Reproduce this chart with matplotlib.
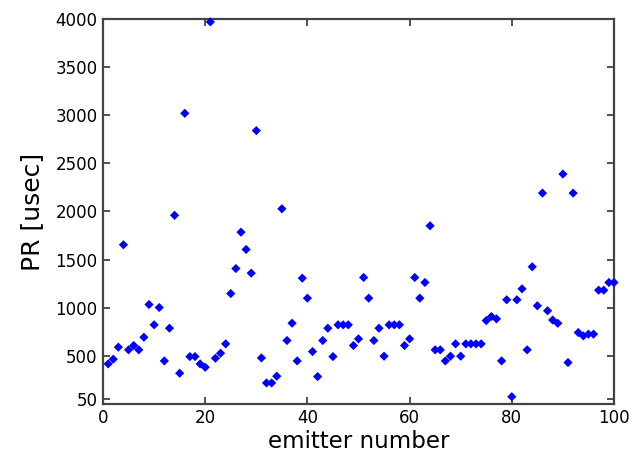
import matplotlib
matplotlib.use("Agg")
import matplotlib.pyplot as plt

emitter = list(range(1, 101))
pr_usec = [
    416, 465, 590, 1654, 562, 607, 562, 693, 1033, 822,
    1002, 447, 787, 1960, 319, 3020, 492, 492, 416, 381,
    3970, 475, 527, 624, 1147, 1407, 1785, 1605, 1359, 2840,
    478, 218, 218, 288, 2028, 659, 839, 447, 1307, 1099,
    544, 284, 659, 787, 492, 822, 822, 822, 607, 676,
    1314, 1099, 659, 787, 496, 822, 822, 822, 607, 676,
    1314, 1099, 1262, 1851, 562, 562, 447, 496, 624, 496,
    624, 624, 624, 624, 866, 908, 884, 447, 1082, 75,
    1082, 1196, 562, 1425, 1020, 2191, 968, 872, 838, 2389,
    430, 2191, 742, 707, 725, 725, 1182, 1182, 1262, 1262,
]
x_ticks = [0, 20, 40, 60, 80, 100]
y_ticks = [50, 500, 1000, 1500, 2000, 2500, 3000, 3500, 4000]

fig = plt.figure(figsize=(6.32, 4.59), dpi=100)
ax = fig.add_axes([0.163, 0.120, 0.8085, 0.8386])

ax.scatter(emitter, pr_usec, marker="D", s=22, color="#0000ff",
           edgecolors="none", zorder=3, clip_on=False)

ax.set_xlim(0, 100)
ax.set_ylim(0, 4000)
ax.set_xticks(x_ticks)
ax.set_yticks(y_ticks)
ax.tick_params(direction="in", top=True, right=True, length=5,
               width=1.2, color="#333333", labelsize=12, pad=4)
for s in ax.spines.values():
    s.set_linewidth(1.6)
    s.set_color("#444444")

ax.set_xlabel("emitter number", fontsize=16.5, labelpad=2)
ax.set_ylabel("PR [usec]", fontsize=18, labelpad=8)

fig.savefig("out.png", dpi=100)
